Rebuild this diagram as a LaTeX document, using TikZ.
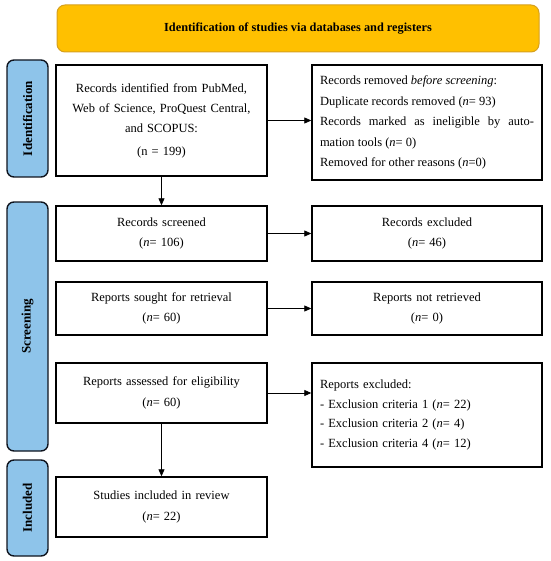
\documentclass[tikz,border=0pt]{standalone}
\usepackage{fontspec}
\setmainfont{Liberation Serif}
\usetikzlibrary{arrows.meta}
\definecolor{bannerfill}{RGB}{255,192,0}
\definecolor{bannerdraw}{RGB}{214,160,30}
\definecolor{barfill}{RGB}{142,196,234}
\definecolor{bardraw}{RGB}{15,20,30}
\begin{document}
\begin{tikzpicture}[x=1pt,y=-1pt,
  box/.style={draw=black, line width=1.4pt, fill=white, inner sep=0pt,
    font=\fontsize{12.5}{20.3}\selectfont, align=center},
  leftbox/.style={box, minimum width=211pt, text width=205pt},
  rightbox/.style={box, minimum width=230pt, text width=212pt},
  bar/.style={draw=bardraw, fill=barfill, line width=1.4pt, rounded corners=7pt,
    rotate=90, minimum height=41pt, inner sep=0pt,
    font=\bfseries\fontsize{13}{14}\selectfont},
  banner/.style={draw=bannerdraw, fill=bannerfill, line width=1pt, rounded corners=8pt,
    minimum width=482pt, minimum height=47pt, inner sep=0pt,
    font=\bfseries\fontsize{12.3}{14}\selectfont},
  arr/.style={line width=0.8pt, -{Triangle[length=7pt,width=6pt]}}
]
\useasboundingbox (0,0) rectangle (550,561);

\node[banner] (banner) at (298,28.5) {Identification of studies via databases and registers};

\node[bar, minimum width=117pt] (idbar) at (27.5,118.5) {Identification};
\node[bar, minimum width=249pt] (scbar) at (27.5,326.5) {Screening};
\node[bar, minimum width=96pt] (inbar) at (27.5,508) {Included};

\node[leftbox, minimum height=111pt] (ident) at (161.5,120.5)
  {Records identified from PubMed,\\ Web of Science, ProQuest Central,\\ and SCOPUS:\\[2pt] (n = 199)};
\node[rightbox, minimum height=115pt, text width=214pt, align=justify,
  font=\fontsize{12.5}{20.5}\selectfont] (removed) at (427,122.5)
  {Records removed \textit{before screening}:\\
   Duplicate records removed (\textit{n}= 93)\\
   Records marked as ineligible by auto-\linebreak
   mation tools (\textit{n}= 0)\\
   Removed for other reasons (\textit{n}=0)};

\node[leftbox, minimum height=55pt] (screened) at (161.5,233.5)
  {Records screened\\ (\textit{n}= 106)};
\node[rightbox, minimum height=55pt] (excluded) at (427,233.5)
  {Records excluded\\ (\textit{n}= 46)};

\node[leftbox, minimum height=53pt] (sought) at (161.5,308.5)
  {Reports sought for retrieval\\ (\textit{n}= 60)};
\node[rightbox, minimum height=53pt] (notretr) at (427,308.5)
  {Reports not retrieved\\ (\textit{n}= 0)};

\node[leftbox, minimum height=60pt] (assessed) at (161.5,393)
  {Reports assessed for eligibility\\ (\textit{n}= 60)};
\node[rightbox, minimum height=104pt, text width=214pt, align=left,
  font=\fontsize{12.5}{19.8}\selectfont] (repexcl) at (427,415)
  {Reports excluded:\\
   - Exclusion criteria 1 (\textit{n}= 22)\\
   - Exclusion criteria 2 (\textit{n}= 4)\\
   - Exclusion criteria 4 (\textit{n}= 12)};

\node[leftbox, minimum height=60pt] (included) at (161.5,507)
  {Studies included in review\\ (\textit{n}= 22)};

\draw[arr] (ident.east) -- (ident.east -| removed.west);
\draw[arr] (ident.south) -- (screened.north);
\draw[arr] (screened.east) -- (excluded.west);
\draw[arr] (sought.east) -- (notretr.west);
\draw[arr] (assessed.east) -- (assessed.east -| repexcl.west);
\draw[arr] (assessed.south) -- (included.north);
\end{tikzpicture}
\end{document}
